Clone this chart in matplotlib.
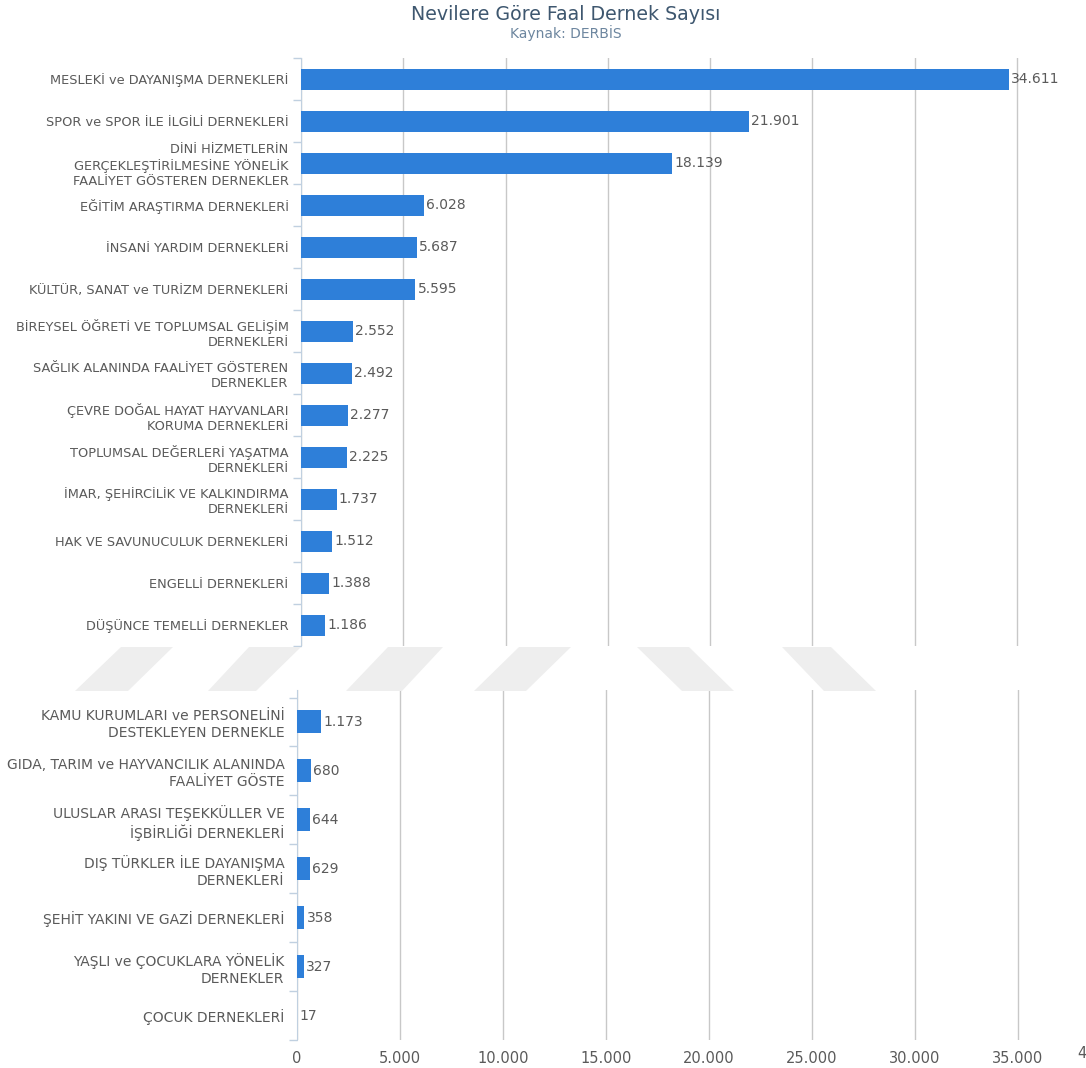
import matplotlib.pyplot as plt
from matplotlib.patches import Polygon

top_labels = ["MESLEKİ ve DAYANIŞMA DERNEKLERİ",
              "SPOR ve SPOR İLE İLGİLİ DERNEKLERİ",
              "DİNİ HİZMETLERİN\nGERÇEKLEŞTİRİLMESİNE YÖNELİK\nFAALİYET GÖSTEREN DERNEKLER",
              "EĞİTİM ARAŞTIRMA DERNEKLERİ",
              "İNSANİ YARDIM DERNEKLERİ",
              "KÜLTÜR, SANAT ve TURİZM DERNEKLERİ",
              "BİREYSEL ÖĞRETİ VE TOPLUMSAL GELİŞİM\nDERNEKLERİ",
              "SAĞLIK ALANINDA FAALİYET GÖSTEREN\nDERNEKLER",
              "ÇEVRE DOĞAL HAYAT HAYVANLARI\nKORUMA DERNEKLERİ",
              "TOPLUMSAL DEĞERLERİ YAŞATMA\nDERNEKLERİ",
              "İMAR, ŞEHİRCİLİK VE KALKINDIRMA\nDERNEKLERİ",
              "HAK VE SAVUNUCULUK DERNEKLERİ",
              "ENGELLİ DERNEKLERİ",
              "DÜŞÜNCE TEMELLİ DERNEKLER"]
top_values = [34611, 21901, 18139, 6028, 5687, 5595, 2552, 2492, 2277, 2225, 1737, 1512, 1388, 1186]

bottom_labels = ["KAMU KURUMLARI ve PERSONELİNİ\nDESTEKLEYEN DERNEKLE",
                 "GIDA, TARIM ve HAYVANCILIK ALANINDA\nFAALİYET GÖSTE",
                 "ULUSLAR ARASI TEŞEKKÜLLER VE\nİŞBİRLİĞİ DERNEKLERİ",
                 "DIŞ TÜRKLER İLE DAYANIŞMA\nDERNEKLERİ",
                 "ŞEHİT YAKINI VE GAZİ DERNEKLERİ",
                 "YAŞLI ve ÇOCUKLARA YÖNELİK\nDERNEKLER",
                 "ÇOCUK DERNEKLERİ"]
bottom_values = [1173, 680, 644, 629, 358, 327, 17]

xticks = [0, 5000, 10000, 15000, 20000, 25000, 30000, 35000]
xticklabels = ["0", "5.000", "10.000", "15.000", "20.000", "25.000", "30.000", "35.000"]

W, H = 1086, 1068
bar_color = "#2e7fd9"
text_color = "#5a5a5a"
axis_color = "#c0d0e0"

plt.rcParams["font.family"] = ["DejaVu Sans"]
fig = plt.figure(figsize=(W / 100, H / 100), dpi=100)


def fmt(v):
    return "{:,}".format(v).replace(",", ".")


def px_box(left, right, top, bottom):
    return [left / W, 1 - bottom / H, (right - left) / W, (bottom - top) / H]


def style(ax, labels, values, ylim, fs, bar_h):
    pos = list(range(len(values)))
    ax.barh(pos, values, height=bar_h, color=bar_color, zorder=3)
    ax.set_xlim(0, 40000)
    ax.set_ylim(*ylim)
    ax.set_yticks(pos)
    ax.set_yticklabels(labels, fontsize=fs, color=text_color, linespacing=1.25)
    ax.tick_params(axis="y", length=0, pad=9)
    # category boundary ticks
    ax.set_yticks([p - 0.5 for p in pos] + [pos[-1] + 0.5], minor=True)
    ax.tick_params(axis="y", which="minor", length=6, color=axis_color, width=1)
    ax.set_xticks(xticks)
    ax.grid(axis="x", color="#c8c8c8", linewidth=1, zorder=0)
    for s in ["top", "right", "bottom"]:
        ax.spines[s].set_visible(False)
    ax.spines["left"].set_color(axis_color)
    for p, v in zip(pos, values):
        ax.annotate(fmt(v), (v, p), xytext=(1.5, 0), textcoords="offset points",
                    va="center", ha="left", fontsize=10, color=text_color, zorder=4)


# top panel
ax1 = fig.add_axes(px_box(301, 1119, 58, 646))
style(ax1, top_labels, top_values, (13 + (646 - 631) / 42.6, -0.5), 9.3, 0.5)
ax1.tick_params(axis="x", length=0, labelbottom=False)

# bottom panel
ax2 = fig.add_axes(px_box(297, 1121, 690, 1040))
style(ax2, bottom_labels, bottom_values, (6.5, -0.5 - 7.5 / 48.9), 10, 0.47)
ax2.set_xticklabels(xticklabels, fontsize=10.5, color=text_color)
ax2.tick_params(axis="x", length=0, pad=8)
fig.text(1077 / W, 1 - 1054 / H, "40.000", fontsize=10.5, color=text_color,
         ha="left", va="center")

# page-break watermark
shapes = [((121, 173), (75, 128)), ((249, 301), (208, 256)), ((388, 443), (346, 402)),
          ((519, 571), (474, 526)), ((637, 689), (682, 734)), ((782, 831), (824, 876))]
for (t0, t1), (b0, b1) in shapes:
    pts = [(t0 / W, 1 - 647 / H), (t1 / W, 1 - 647 / H),
           (b1 / W, 1 - 691 / H), (b0 / W, 1 - 691 / H)]
    fig.add_artist(Polygon(pts, closed=True, transform=fig.transFigure,
                           facecolor="#eeeeee", edgecolor="none"))

fig.text(566 / W, 1 - 14 / H, "Nevilere Göre Faal Dernek Sayısı", fontsize=13.7,
         color="#3e576f", ha="center", va="center")
fig.text(566 / W, 1 - 33 / H, "Kaynak: DERBİS", fontsize=10,
         color="#6d869f", ha="center", va="center")

fig.savefig("out.png", dpi=100)
